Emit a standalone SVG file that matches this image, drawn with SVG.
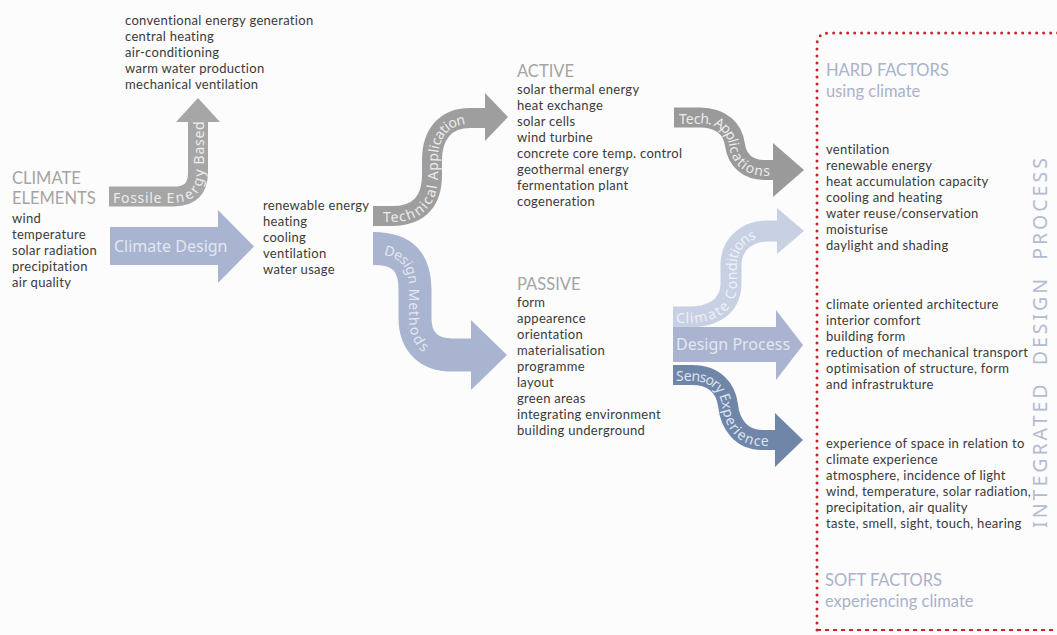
<svg xmlns="http://www.w3.org/2000/svg" width="1057" height="635" viewBox="0 0 1057 635">
<style>
text{font-family:Lato,"Noto Sans",sans-serif}
.b{font-size:13px;fill:#3a3a3a;letter-spacing:0.3px}
.h{font-size:16.5px;fill:#a4a4a4}
.hb{font-size:16.5px;fill:#a9b2cb}
.lab{font-family:"Noto Sans","Open Sans",sans-serif;font-size:14px;dominant-baseline:central}
.lg{fill:#ececec}
.lb{fill:#e2e7f1}
.gray{fill:none;stroke:#a6a6a6}
.blue{fill:none;stroke:#a9b4d0}
</style>
<defs>
<path id="pF" d="M109,196.5 H174 Q198,196.5 198,172.5 V122"/>
<path id="pFt" d="M109,196.5 H174 Q198,196.5 198,172.5 V95"/>
<path id="pT" d="M373,216 H392 C420,216 432,200 432,175 V160 C432,135 445,118 470,118 H486"/>
<path id="pTt" d="M373,216 H392 C420,216 432,200 432,175 V160 C432,135 445,118 470,118 H510"/>
<path id="pD" d="M373,248.5 C403,248.5 415,262 415,290 V318 C415,343 430,355 452,355 H472"/>
<path id="pTA" d="M674,117.5 H700 C722,117.5 733,130 735,145 C737,160 748,170 765,170 H774"/>
<path id="pTAt" d="M674,117.5 H700 C722,117.5 733,130 735,145 C737,160 748,170 765,170 H800"/>
<path id="pCC" d="M673,317 H688 C716,317 730,305 731,285 V263 C732,243 748,231 768,231 H778"/>
<path id="pCCt" d="M673,317 H688 C716,317 730,305 731,285 V263 C732,243 748,231 768,231 H800"/>
<path id="pSE" d="M673,375 H692 C716,375 726,390 728,405 C730,425 742,440 762,440 H775"/>
<path id="pSEt" d="M673,375 H692 C716,375 726,390 728,405 C730,425 742,440 762,440 H800"/>
</defs>
<rect width="1057" height="635" fill="#fcfcfc"/>

<g id="connectors">
  <g id="fossile">
    <use href="#pF" class="gray" stroke-width="20"/>
    <polygon points="176,122 198,98 220,122" fill="#a6a6a6"/>
    <text class="lab lg" font-size="14.5" letter-spacing="0.7"><textPath href="#pFt" startOffset="4">Fossile Energy Based</textPath></text>
  </g>
  <g id="climate-design">
    <polygon points="110,227 218,227 218,210 254,246.5 218,283 218,265 110,265" fill="#a9b4d0"/>
    <text x="114" y="252" class="lb" style="font-family:'Noto Sans',sans-serif;font-size:16px">Climate Design</text>
  </g>
  <g id="technical-application">
    <use href="#pT" fill="none" stroke="#9e9e9e" stroke-width="20"/>
    <polygon points="485,93 508,117 485,141" fill="#9e9e9e"/>
    <text class="lab lg" font-size="14.5" letter-spacing="0.5"><textPath href="#pTt" startOffset="10">Technical Application</textPath></text>
  </g>
  <g id="design-methods">
    <use href="#pD" class="blue" stroke-width="33"/>
    <polygon points="471,320 507,355 471,390" fill="#a9b4d0"/>
    <text class="lab lb" letter-spacing="0.8"><textPath href="#pD" startOffset="12">Design Methods</textPath></text>
  </g>
  <g id="tech-applications">
    <use href="#pTA" fill="none" stroke="#9a9a9a" stroke-width="20"/>
    <polygon points="773,143 804,170 773,197" fill="#9a9a9a"/>
    <text class="lab lg"><textPath href="#pTAt" startOffset="5">Tech. Applications</textPath></text>
  </g>
  <g id="climate-conditions">
    <use href="#pCC" fill="none" stroke="#c8d0e4" stroke-width="21"/>
    <polygon points="777,208 804,231 777,254" fill="#c8d0e4"/>
    <text class="lab" fill="#eef1f7" letter-spacing="0.6"><textPath href="#pCCt" startOffset="3">Climate Conditions</textPath></text>
  </g>
  <g id="design-process">
    <polygon points="673,327 776,327 776,310 803,345 776,380 776,362 673,362" fill="#aab4d0"/>
    <text x="676" y="350" class="lb" style="font-family:'Noto Sans',sans-serif;font-size:16px">Design Process</text>
  </g>
  <g id="sensory-experience">
    <use href="#pSE" fill="none" stroke="#6f86a8" stroke-width="20"/>
    <polygon points="775,413 803,440 775,467" fill="#6f86a8"/>
    <text class="lab" fill="#dde3ee"><textPath href="#pSEt" startOffset="3">Sensory Experience</textPath></text>
  </g>
</g>

<g id="conventional">
  <text class="b" x="125" y="25">conventional energy generation</text>
  <text class="b" x="125" y="41">central heating</text>
  <text class="b" x="125" y="57">air-conditioning</text>
  <text class="b" x="125" y="73">warm water production</text>
  <text class="b" x="125" y="89">mechanical ventilation</text>
</g>

<g id="climate-elements">
  <text class="h" x="12" y="184">CLIMATE</text>
  <text class="h" x="12" y="204">ELEMENTS</text>
  <text class="b" x="12" y="223">wind</text>
  <text class="b" x="12" y="239">temperature</text>
  <text class="b" x="12" y="255">solar radiation</text>
  <text class="b" x="12" y="271">precipitation</text>
  <text class="b" x="12" y="287">air quality</text>
</g>

<g id="needs">
  <text class="b" x="263" y="210">renewable energy</text>
  <text class="b" x="263" y="226">heating</text>
  <text class="b" x="263" y="242">cooling</text>
  <text class="b" x="263" y="258">ventilation</text>
  <text class="b" x="263" y="274">water usage</text>
</g>

<g id="active">
  <text class="h" x="517" y="77">ACTIVE</text>
  <text class="b" x="517" y="94">solar thermal energy</text>
  <text class="b" x="517" y="110">heat exchange</text>
  <text class="b" x="517" y="126">solar cells</text>
  <text class="b" x="517" y="142">wind turbine</text>
  <text class="b" x="517" y="158">concrete core temp. control</text>
  <text class="b" x="517" y="174">geothermal energy</text>
  <text class="b" x="517" y="190">fermentation plant</text>
  <text class="b" x="517" y="206">cogeneration</text>
</g>

<g id="passive">
  <text class="h" x="517" y="290">PASSIVE</text>
  <text class="b" x="517" y="307">form</text>
  <text class="b" x="517" y="323">appearence</text>
  <text class="b" x="517" y="339">orientation</text>
  <text class="b" x="517" y="355">materialisation</text>
  <text class="b" x="517" y="371">programme</text>
  <text class="b" x="517" y="387">layout</text>
  <text class="b" x="517" y="403">green areas</text>
  <text class="b" x="517" y="419">integrating environment</text>
  <text class="b" x="517" y="435">building underground</text>
</g>

<g id="integrated-design-process">
  <path d="M817,630 V45 Q817,33 829,33 H1060" fill="none" stroke="#c4262e" stroke-width="3" stroke-linecap="round" stroke-dasharray="0 7"/>
  <path d="M817,630 H1060" fill="none" stroke="#c4262e" stroke-width="2" stroke-dasharray="4 4"/>
  <text class="hb" x="826" y="76">HARD FACTORS</text>
  <text class="hb" x="826" y="97">using climate</text>
  <text class="b" x="826" y="154">ventilation</text>
  <text class="b" x="826" y="170">renewable energy</text>
  <text class="b" x="826" y="186">heat accumulation capacity</text>
  <text class="b" x="826" y="202">cooling and heating</text>
  <text class="b" x="826" y="218">water reuse/conservation</text>
  <text class="b" x="826" y="234">moisturise</text>
  <text class="b" x="826" y="250">daylight and shading</text>
  <text class="b" x="826" y="309">climate oriented architecture</text>
  <text class="b" x="826" y="325">interior comfort</text>
  <text class="b" x="826" y="341">building form</text>
  <text class="b" x="826" y="357">reduction of mechanical transport</text>
  <text class="b" x="826" y="373">optimisation of structure, form</text>
  <text class="b" x="826" y="389">and infrastrukture</text>
  <text class="b" x="826" y="448">experience of space in relation to</text>
  <text class="b" x="826" y="464">climate experience</text>
  <text class="b" x="826" y="480">atmosphere, incidence of light</text>
  <text class="b" x="826" y="496">wind, temperature, solar radiation,</text>
  <text class="b" x="826" y="512">precipitation, air quality</text>
  <text class="b" x="826" y="528">taste, smell, sight, touch, hearing</text>
  <text class="hb" x="825" y="586">SOFT FACTORS</text>
  <text class="hb" x="825" y="607">experiencing climate</text>
  <text transform="translate(1047,341.5) rotate(-90)" text-anchor="middle" font-size="19.5" fill="#b3bbcf" letter-spacing="3" word-spacing="8" style="font-family:'Noto Sans',sans-serif">INTEGRATED DESIGN PROCESS</text>
</g>
</svg>
